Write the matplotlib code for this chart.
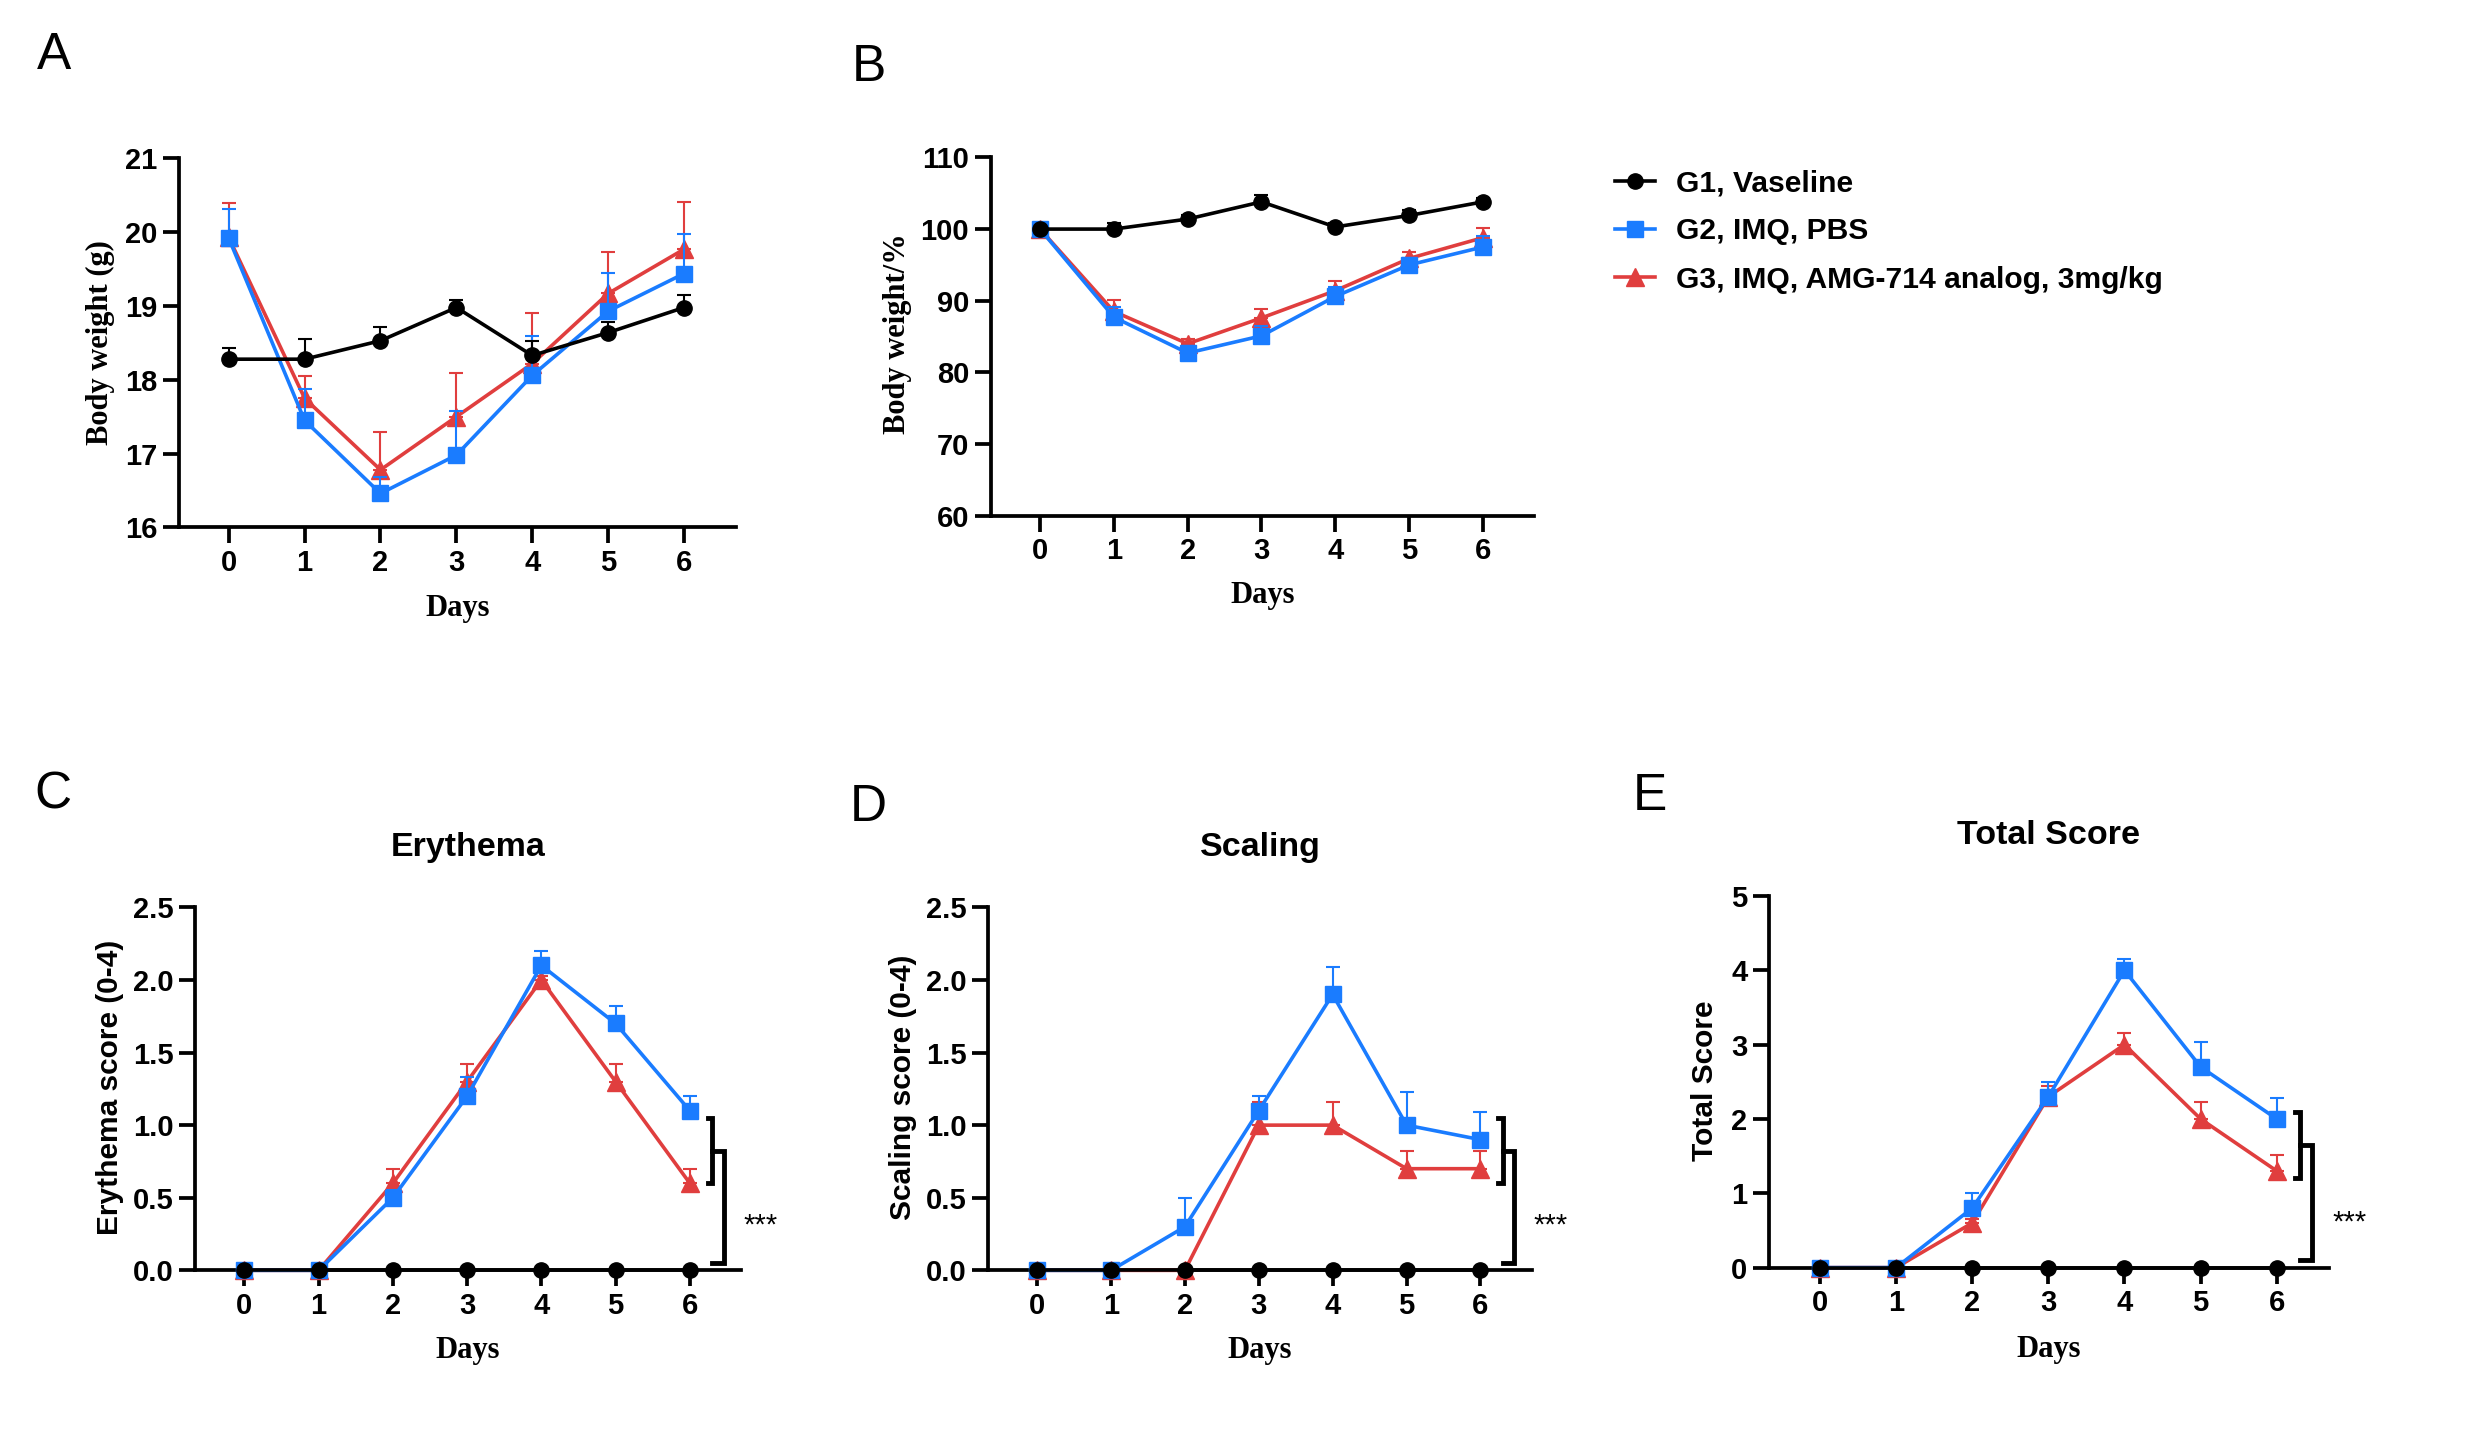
import numpy as np
import matplotlib
matplotlib.use('Agg')
import matplotlib.pyplot as plt
from matplotlib.ticker import FormatStrFormatter

plt.rcParams['font.family'] = ['Liberation Sans', 'DejaVu Sans']

# ---- data ----
days = [0, 1, 2, 3, 4, 5, 6]
groups = ['G1, Vaseline', 'G2, IMQ, PBS', 'G3, IMQ, AMG-714 analog, 3mg/kg']

# A: body weight (g), mean and upper error
bw_g1 = [18.28, 18.28, 18.53, 18.98, 18.33, 18.64, 18.98]
bw_g1_err = [0.15, 0.28, 0.18, 0.10, 0.19, 0.14, 0.17]
bw_g2 = [19.92, 17.45, 16.46, 16.98, 18.06, 18.93, 19.44]
bw_g2_err = [0.40, 0.43, 0.22, 0.60, 0.54, 0.52, 0.53]
bw_g3 = [19.93, 17.75, 16.78, 17.50, 18.22, 19.17, 19.77]
bw_g3_err = [0.47, 0.30, 0.52, 0.59, 0.69, 0.56, 0.64]

# B: body weight (% of day 0)
pct_g1 = [100.0, 100.0, 101.4, 103.8, 100.3, 101.9, 103.8]
pct_g1_err = [0.3, 0.9, 0.6, 1.0, 0.6, 0.8, 0.6]
pct_g2 = [100.0, 87.7, 82.7, 85.1, 90.6, 95.0, 97.5]
pct_g2_err = [0.5, 1.4, 1.0, 1.4, 1.3, 1.0, 1.5]
pct_g3 = [100.0, 88.5, 84.0, 87.6, 91.4, 95.9, 98.8]
pct_g3_err = [0.3, 1.6, 0.7, 1.3, 1.4, 0.9, 1.4]

# C: erythema score
ery_g1 = [0, 0, 0, 0, 0, 0, 0]
ery_g2 = [0, 0, 0.5, 1.2, 2.1, 1.7, 1.1]
ery_g2_err = [0, 0, 0.05, 0.13, 0.10, 0.12, 0.10]
ery_g3 = [0, 0, 0.6, 1.3, 2.0, 1.3, 0.6]
ery_g3_err = [0, 0, 0.10, 0.12, 0.03, 0.12, 0.10]

# D: scaling score
sca_g1 = [0, 0, 0, 0, 0, 0, 0]
sca_g2 = [0, 0, 0.3, 1.1, 1.9, 1.0, 0.9]
sca_g2_err = [0, 0, 0.20, 0.10, 0.19, 0.23, 0.19]
sca_g3 = [0, 0, 0, 1.0, 1.0, 0.7, 0.7]
sca_g3_err = [0, 0, 0, 0.16, 0.16, 0.125, 0.125]

# E: total score
tot_g1 = [0, 0, 0, 0, 0, 0, 0]
tot_g2 = [0, 0, 0.8, 2.3, 4.0, 2.7, 2.0]
tot_g2_err = [0, 0, 0.20, 0.20, 0.15, 0.34, 0.28]
tot_g3 = [0, 0, 0.6, 2.3, 3.0, 2.0, 1.3]
tot_g3_err = [0, 0, 0.05, 0.15, 0.16, 0.23, 0.21]

BLACK = '#000000'
BLUE = '#1a7cff'
RED = '#e03e3e'
SERIF = ['Liberation Serif', 'DejaVu Serif']

fig = plt.figure(figsize=(24.74, 14.51), dpi=100)


def draw_series(ax, y, err, color, marker, ms, z):
    y = np.asarray(y, dtype=float)
    line, = ax.plot(days, y, color=color, lw=2.6, marker=marker, ms=ms,
                    zorder=z, clip_on=False)
    if err is not None:
        err = np.asarray(err, dtype=float)
        keep = err > 0
        x = np.asarray(days)[keep]
        ax.errorbar(x, y[keep], yerr=[np.zeros(keep.sum()), err[keep]],
                    fmt='none', ecolor=color, elinewidth=1.5, capsize=5,
                    capthick=1.5, zorder=z - 0.5)
    return line


def style_axis(ax, xlim, ylim, yticks, yfmt):
    ax.set_xlim(*xlim)
    ax.set_ylim(*ylim)
    ax.set_xticks(days)
    ax.set_yticks(yticks)
    ax.yaxis.set_major_formatter(FormatStrFormatter(yfmt))
    for s in ['top', 'right']:
        ax.spines[s].set_visible(False)
    for s in ['left', 'bottom']:
        ax.spines[s].set_linewidth(2.7)
    ax.tick_params(direction='out', length=11.5, width=2.7, labelsize=21, pad=4)
    plt.setp(ax.get_xticklabels() + ax.get_yticklabels(), fontweight='bold')


def days_label(ax, ypos):
    ax.set_xlabel('Days', family=SERIF, fontweight='bold', fontsize=22, va='center')
    ax.xaxis.set_label_coords(0.5, ypos)


def bracket(ax, inner, outer_bot, y_star, x_in=6.30, x_out=6.46, tick=0.06):
    top, bot = inner
    mid = (top + bot) / 2
    ax.plot([x_in - tick, x_in, x_in, x_in - tick], [top, top, bot, bot],
            color=BLACK, lw=3.5, clip_on=False, solid_joinstyle='miter')
    ax.plot([x_in, x_out, x_out, x_in], [mid, mid, outer_bot, outer_bot],
            color=BLACK, lw=3.5, clip_on=False, solid_joinstyle='miter')
    ax.text(6.95, y_star, '***', fontsize=21, ha='center', va='baseline',
            clip_on=False)


# ---- A: body weight (g) ----
axA = fig.add_axes([0.0722, 0.6365, 0.2253, 0.2543])
draw_series(axA, bw_g3, bw_g3_err, RED, '^', 13, 3)
draw_series(axA, bw_g2, bw_g2_err, BLUE, 's', 12, 4)
draw_series(axA, bw_g1, bw_g1_err, BLACK, 'o', 11, 5)
style_axis(axA, (-0.66, 6.685), (16, 21), [16, 17, 18, 19, 20, 21], '%d')
axA.set_ylabel('Body weight (g)', family=SERIF, fontweight='bold', fontsize=22,
               va='center')
axA.yaxis.set_label_coords(-0.141, 0.50)
days_label(axA, -0.221)

# ---- B: body weight (%) ----
axB = fig.add_axes([0.4004, 0.6446, 0.2196, 0.2469])
h3 = draw_series(axB, pct_g3, pct_g3_err, RED, '^', 13, 3)
h2 = draw_series(axB, pct_g2, pct_g2_err, BLUE, 's', 12, 4)
h1 = draw_series(axB, pct_g1, pct_g1_err, BLACK, 'o', 11, 5)
style_axis(axB, (-0.67, 6.69), (60, 110), [60, 70, 80, 90, 100, 110], '%d')
axB.set_ylabel('Body weight/%', family=SERIF, fontweight='bold', fontsize=22,
               va='center')
axB.yaxis.set_label_coords(-0.171, 0.507)
days_label(axB, -0.222)

fig.legend([h1, h2, h3], groups, loc='center left',
           bbox_to_anchor=(0.6528, 0.8405), frameon=False, borderpad=0,
           borderaxespad=0, handlelength=1.33, handletextpad=0.7,
           labelspacing=0.68,
           prop={'family': 'Liberation Sans', 'weight': 'bold', 'size': 21.6})

# ---- C/D/E: clinical scores ----
score_panels = [
    ([0.0790, 0.1245, 0.2204, 0.2502], 'Erythema', 'Erythema score (0-4)',
     ery_g1, ery_g2, ery_g2_err, ery_g3, ery_g3_err, (-0.66, 6.686),
     2.5, [0, 0.5, 1.0, 1.5, 2.0, 2.5], '%.1f', -0.157,
     (1.05, 0.6), 0.05, 0.25),
    ([0.3994, 0.1245, 0.2199, 0.2502], 'Scaling', 'Scaling score (0-4)',
     sca_g1, sca_g2, sca_g2_err, sca_g3, sca_g3_err, (-0.663, 6.70),
     2.5, [0, 0.5, 1.0, 1.5, 2.0, 2.5], '%.1f', -0.156,
     (1.05, 0.6), 0.05, 0.25),
    ([0.7150, 0.1264, 0.2262, 0.2561], 'Total Score', 'Total Score',
     tot_g1, tot_g2, tot_g2_err, tot_g3, tot_g3_err, (-0.67, 6.68),
     5, [0, 1, 2, 3, 4, 5], '%d', -0.114,
     (2.1, 1.2), 0.1, 0.50),
]

for (rect, title, ylab, g1, g2, g2e, g3, g3e, xlim, ymax, yt, fmt, ylx,
     inner, obot, ystar) in score_panels:
    ax = fig.add_axes(rect)
    draw_series(ax, g3, g3e, RED, '^', 13, 3)
    draw_series(ax, g2, g2e, BLUE, 's', 12, 4)
    draw_series(ax, g1, None, BLACK, 'o', 11, 5)
    style_axis(ax, xlim, (0, ymax), yt, fmt)
    ax.set_ylabel(ylab, fontweight='bold', fontsize=21.5, va='center')
    ax.yaxis.set_label_coords(ylx, 0.503)
    days_label(ax, -0.22)
    ax.text(0.5, 1.164, title, transform=ax.transAxes, ha='center', va='center',
            fontsize=24.5, fontweight='bold')
    bracket(ax, inner, obot, ystar)

# panel letters
for letter, x, y in [('A', 0.0150, 0.9525), ('B', 0.3444, 0.9445),
                     ('C', 0.0139, 0.4425), ('D', 0.3436, 0.4342),
                     ('E', 0.6601, 0.4418)]:
    fig.text(x, y, letter, fontsize=37, ha='left', va='baseline')

fig.savefig('out.png', dpi=100)
